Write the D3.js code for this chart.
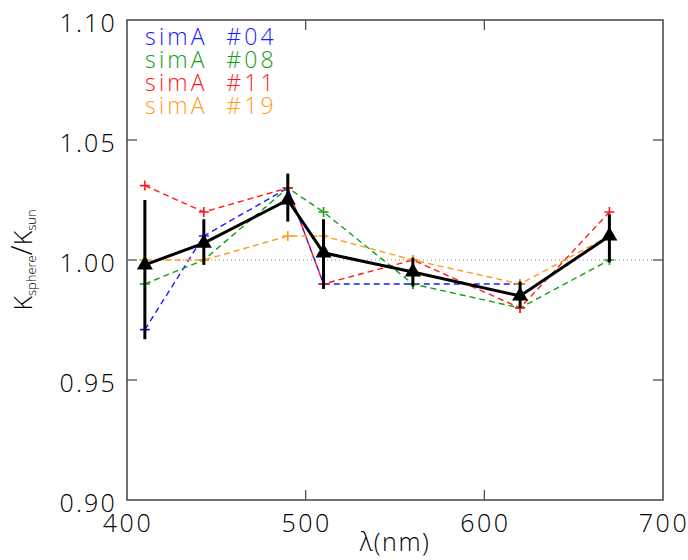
<!DOCTYPE html>
<html>
<head>
<meta charset="utf-8">
<script src="https://cdn.jsdelivr.net/npm/d3@7"></script>
<style>
  body { margin: 0; background: #fff; }
  text { font-family: "Open Sans", "Liberation Sans", sans-serif; font-weight: 300; fill: #000; }
</style>
</head>
<body>
<div id="chart"></div>
<script>
// wavelengths (nm)
const wavelengths = [410, 443, 490, 510, 560, 620, 670];

// individual simulations
const simA04 = [0.971, 1.010, 1.030, 0.990, 0.990, 0.990];
const simA08 = [0.990, 1.000, 1.030, 1.020, 0.990, 0.980, 1.000];
const simA11 = [1.031, 1.020, 1.030, 0.990, 1.000, 0.980, 1.020];
const simA19 = [1.000, 1.000, 1.010, 1.010, 1.000, 0.990, 1.010];

// mean with error bars
const meanVals = [0.998, 1.007, 1.025, 1.003, 0.995, 0.985, 1.010];
const errLow  = [0.967, 0.998, 1.016, 0.988, 0.989, 0.980, 0.999];
const errHigh = [1.025, 1.017, 1.036, 1.017, 1.001, 0.991, 1.019];

const seriesNames = ["simA  #04", "simA  #08", "simA  #11", "simA  #19"];
const seriesColors = ["#1a1aff", "#10a010", "#ff1a1a", "#ff9a1a"];
const seriesData = [simA04, simA08, simA11, simA19];

const xTicks = [400, 500, 600, 700];
const yTicks = [0.90, 0.95, 1.00, 1.05, 1.10];

const margin = { top: 20, right: 25, bottom: 60, left: 127 };
const W = 688, H = 560;
const width = W - margin.left - margin.right;
const height = H - margin.top - margin.bottom;

const svg = d3.select("#chart").append("svg")
    .attr("width", W).attr("height", H);
const g = svg.append("g")
    .attr("transform", `translate(${margin.left},${margin.top})`);

const x = d3.scaleLinear().domain([400, 700]).range([0, width]);
const y = d3.scaleLinear().domain([0.90, 1.10]).range([height, 0]);

// frame
g.append("rect")
    .attr("width", width).attr("height", height)
    .attr("fill", "none").attr("stroke", "#444").attr("stroke-width", 1.5);

// ticks (inward, all four sides)
const tl = 10;
g.selectAll(".xtb").data(xTicks.slice(1, -1)).enter().append("line")
    .attr("x1", d => x(d)).attr("x2", d => x(d))
    .attr("y1", height).attr("y2", height - tl)
    .attr("stroke", "#444").attr("stroke-width", 1.2);
g.selectAll(".xtt").data(xTicks.slice(1, -1)).enter().append("line")
    .attr("x1", d => x(d)).attr("x2", d => x(d))
    .attr("y1", 0).attr("y2", tl)
    .attr("stroke", "#444").attr("stroke-width", 1.2);
g.selectAll(".ytl").data(yTicks.slice(1, -1)).enter().append("line")
    .attr("x1", 0).attr("x2", tl)
    .attr("y1", d => y(d)).attr("y2", d => y(d))
    .attr("stroke", "#444").attr("stroke-width", 1.2);
g.selectAll(".ytr").data(yTicks.slice(1, -1)).enter().append("line")
    .attr("x1", width).attr("x2", width - tl)
    .attr("y1", d => y(d)).attr("y2", d => y(d))
    .attr("stroke", "#444").attr("stroke-width", 1.2);

// tick labels
g.selectAll(".xl").data(xTicks).enter().append("text")
    .attr("x", d => x(d) + 1).attr("y", height + 32)
    .attr("text-anchor", "middle").attr("font-size", 25)
    .attr("letter-spacing", 2.5)
    .text(d => d);
g.selectAll(".yl").data(yTicks).enter().append("text")
    .attr("x", -10).attr("y", d => y(d) + 12)
    .attr("text-anchor", "end").attr("font-size", 25)
    .attr("letter-spacing", 2.2)
    .text(d => d.toFixed(2));

// axis titles
svg.append("text")
    .attr("x", margin.left + width / 2).attr("y", H - 9)
    .attr("text-anchor", "middle").attr("font-size", 25)
    .attr("letter-spacing", 1.5)
    .text("λ(nm)");
const yt = svg.append("text")
    .attr("transform", `translate(32,${margin.top + y(1.0)}) rotate(-90)`)
    .attr("text-anchor", "middle").attr("font-size", 25);
yt.append("tspan").text("K");
yt.append("tspan").attr("font-size", 13).attr("dy", 4).text("sphere");
yt.append("tspan").attr("dy", -4).attr("font-size", 29).text("/");
yt.append("tspan").text("K");
yt.append("tspan").attr("font-size", 13).attr("dy", 4).text("sun");

// reference line at 1.00
g.append("line")
    .attr("x1", 0).attr("x2", width)
    .attr("y1", y(1)).attr("y2", y(1))
    .attr("stroke", "#888").attr("stroke-width", 1)
    .attr("stroke-dasharray", "1,3");

// simulation series
const line = d3.line().x(d => x(d[0])).y(d => y(d[1]));
seriesData.forEach((vals, i) => {
    const pts = vals.map((v, j) => [wavelengths[j], v]);
    g.append("path").datum(pts)
        .attr("d", line)
        .attr("fill", "none")
        .attr("stroke", seriesColors[i])
        .attr("stroke-width", 1.4)
        .attr("stroke-dasharray", "6,4");
    g.selectAll(".p" + i).data(pts).enter().append("path")
        .attr("transform", d => `translate(${x(d[0])},${y(d[1])})`)
        .attr("d", "M-5,0H5M0,-5V5")
        .attr("stroke", seriesColors[i]).attr("stroke-width", 1.6);
});

// mean line with error bars
const meanPts = meanVals.map((v, j) => [wavelengths[j], v]);
g.selectAll(".err").data(wavelengths).enter().append("line")
    .attr("x1", d => x(d)).attr("x2", d => x(d))
    .attr("y1", (d, j) => y(errLow[j])).attr("y2", (d, j) => y(errHigh[j]))
    .attr("stroke", "#000").attr("stroke-width", 3);
g.append("path").datum(meanPts)
    .attr("d", line)
    .attr("fill", "none").attr("stroke", "#000").attr("stroke-width", 3);
g.selectAll(".tri").data(meanPts).enter().append("path")
    .attr("transform", d => `translate(${x(d[0])},${y(d[1])})`)
    .attr("d", d3.symbol(d3.symbolTriangle, 110))
    .attr("fill", "#000");

// legend
seriesNames.forEach((name, i) => {
    svg.append("text")
        .attr("x", margin.left + 18).attr("y", 45 + i * 23)
        .attr("font-size", 23)
        .attr("letter-spacing", 3.2)
        .attr("xml:space", "preserve")
        .style("fill", seriesColors[i])
        .style("white-space", "pre")
        .text(name);
});
</script>
</body>
</html>
